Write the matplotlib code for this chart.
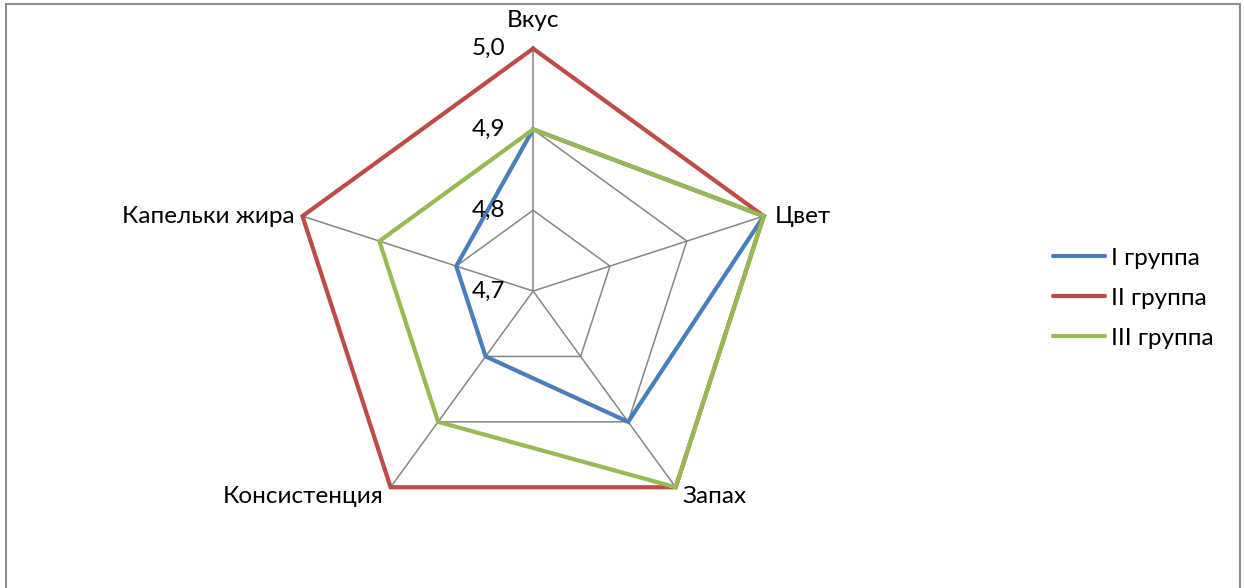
import numpy as np
import matplotlib
matplotlib.use("Agg")
import matplotlib.pyplot as plt
from matplotlib.patches import Rectangle
from matplotlib.lines import Line2D

categories = ['Вкус', 'Цвет', 'Запах', 'Консистенция', 'Капельки жира']
series_names = ['I группа', 'II группа', 'III группа']
group1 = [4.9, 5.0, 4.9, 4.8, 4.8]
group2 = [5.0, 5.0, 5.0, 5.0, 5.0]
group3 = [4.9, 5.0, 5.0, 4.9, 4.9]
ticks = [4.7, 4.8, 4.9, 5.0]
tick_labels = ['4,7', '4,8', '4,9', '5,0']

colors = ['#4a7ebb', '#be4b48', '#98b954']
grid_color = '#868686'
plt.rcParams['font.family'] = ['Lato', 'DejaVu Sans']
fs = 17.5

fig = plt.figure(figsize=(12.44, 5.88), dpi=100)
ax = fig.add_axes([0.2336, 0.0926, 0.3899, 0.8248], projection='polar')
ax.set_theta_zero_location('N')
ax.set_theta_direction(-1)
ax.set_ylim(ticks[0], ticks[-1])
ax.axis('off')

n = len(categories)
theta = np.arange(n) * 2 * np.pi / n
theta_c = np.append(theta, theta[0])

# grid rings
for t in ticks[1:]:
    ax.plot(theta_c, [t] * (n + 1), color=grid_color, lw=1.1, zorder=1, clip_on=False)
# spokes
for th in theta:
    ax.plot([th, th], [ticks[0], ticks[-1]], color=grid_color, lw=1.1, zorder=1, clip_on=False)

for vals, c, name in zip([group1, group2, group3], colors, series_names):
    v = np.append(vals, vals[0])
    ax.plot(theta_c, v, color=c, lw=3.0, zorder=3, clip_on=False, label=name,
            solid_joinstyle='miter')

# tick labels
for t, lab in zip(ticks, tick_labels):
    ax.annotate(lab, (0, t), xytext=(-28, 0), textcoords='offset pixels',
                ha='right', va='center', fontsize=fs, zorder=5)

# category labels
offsets = [(0, 28, 'center', 'center'), (11, 0, 'left', 'center'),
           (7, -9, 'left', 'center'), (-7, -9, 'right', 'center'),
           (-8, 0, 'right', 'center')]
for th, lab, (dx, dy, ha, va) in zip(theta, categories, offsets):
    ax.annotate(lab, (th, ticks[-1]), xytext=(dx, dy), textcoords='offset pixels',
                ha=ha, va=va, fontsize=fs, annotation_clip=False)

handles = [Line2D([], [], color=c, lw=3.0, solid_capstyle='round') for c in colors]
fig.legend(handles, series_names, loc='center left', bbox_to_anchor=(0.829, 0.493),
           frameon=False, fontsize=fs, handlelength=2.14, handletextpad=0.25,
           labelspacing=0.78)

fig.patches.append(Rectangle((0.0052, -0.1), 0.9912, 1.094, transform=fig.transFigure,
                             fill=False, edgecolor='#8c8c8c', lw=1.5, figure=fig))

fig.savefig('out.png', dpi=100, facecolor='white')
